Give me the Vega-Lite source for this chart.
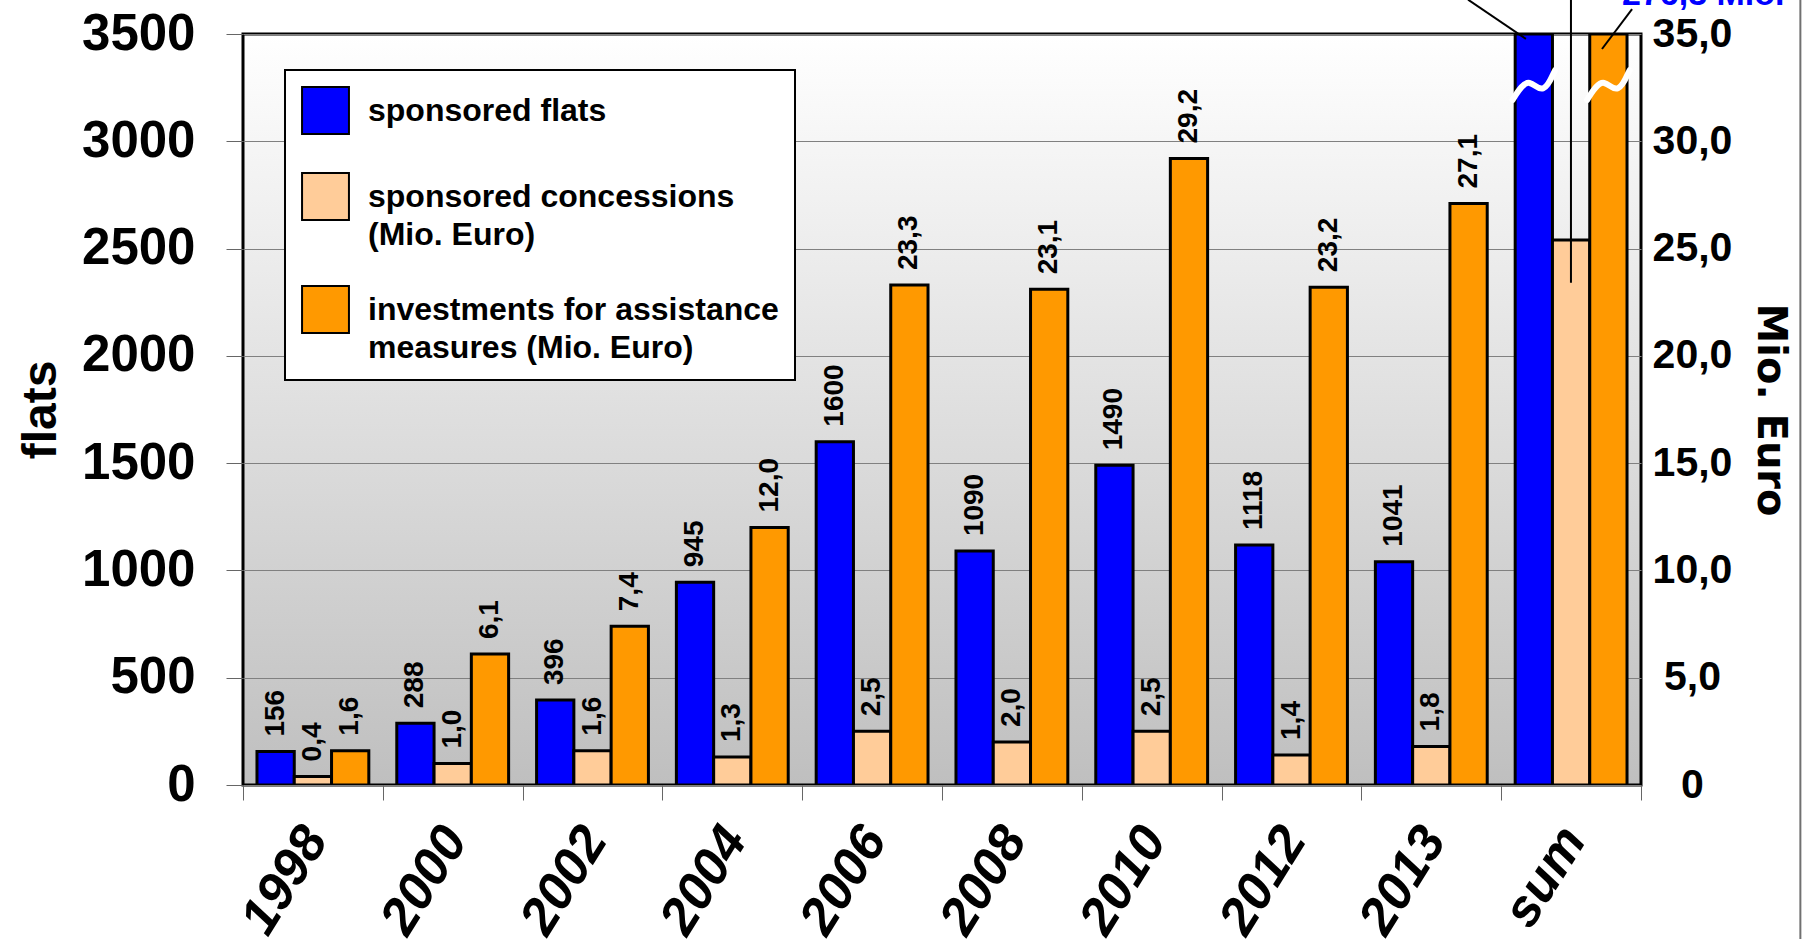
{
  "$schema": "https://vega.github.io/schema/vega-lite/v6.json",
  "width": 1398,
  "height": 751,
  "autosize": {"type": "none"},
  "padding": {"left": 243, "top": 34, "right": 164, "bottom": 154},
  "background": "white",
  "config": {
    "locale": {"number": {"decimal": ",", "thousands": ".", "grouping": [3], "currency": ["", " €"]}},
    "font": "Liberation Sans",
    "legend": {"strokeWidth": 2},
    "view": {
      "fill": {"gradient": "linear", "x1": 0, "y1": 0, "x2": 0, "y2": 1, "stops": [{"offset": 0, "color": "#ffffff"}, {"offset": 1, "color": "#bfbfbf"}]},
      "stroke": "black",
      "strokeWidth": 3
    }
  },
  "datasets": {
    "bars": [
      {"year": "1998", "series": "flats", "value": 156},
      {"year": "2000", "series": "flats", "value": 288},
      {"year": "2002", "series": "flats", "value": 396},
      {"year": "2004", "series": "flats", "value": 945},
      {"year": "2006", "series": "flats", "value": 1600},
      {"year": "2008", "series": "flats", "value": 1090},
      {"year": "2010", "series": "flats", "value": 1490},
      {"year": "2012", "series": "flats", "value": 1118},
      {"year": "2013", "series": "flats", "value": 1041},
      {"year": "sum", "series": "flats", "value": 3500},
      {"year": "1998", "series": "concessions", "value": 0.4},
      {"year": "2000", "series": "concessions", "value": 1.0},
      {"year": "2002", "series": "concessions", "value": 1.6},
      {"year": "2004", "series": "concessions", "value": 1.3},
      {"year": "2006", "series": "concessions", "value": 2.5},
      {"year": "2008", "series": "concessions", "value": 2.0},
      {"year": "2010", "series": "concessions", "value": 2.5},
      {"year": "2012", "series": "concessions", "value": 1.4},
      {"year": "2013", "series": "concessions", "value": 1.8},
      {"year": "sum", "series": "concessions", "value": 25.4},
      {"year": "1998", "series": "investments", "value": 1.6},
      {"year": "2000", "series": "investments", "value": 6.1},
      {"year": "2002", "series": "investments", "value": 7.4},
      {"year": "2004", "series": "investments", "value": 12.0},
      {"year": "2006", "series": "investments", "value": 23.3},
      {"year": "2008", "series": "investments", "value": 23.1},
      {"year": "2010", "series": "investments", "value": 29.2},
      {"year": "2012", "series": "investments", "value": 23.2},
      {"year": "2013", "series": "investments", "value": 27.1},
      {"year": "sum", "series": "investments", "value": 276.3}
    ],
    "lines": [
      {"x1": 9.177, "y1": 3477, "x2": 8.763, "y2": 3660},
      {"x1": 9.499, "y1": 2341, "x2": 9.499, "y2": 3660},
      {"x1": 9.721, "y1": 3430, "x2": 9.936, "y2": 3616}
    ],
    "frame": [
      {"x1": 11.14, "y1": -720, "x2": 11.14, "y2": 3660}
    ],
    "breaks": [
      {"year": "sum", "series": "flats", "y": 3262},
      {"year": "sum", "series": "investments", "y": 3262}
    ],
    "notes": [
      {"x": 9.864, "y": 3635, "text": "276,3 Mio."}
    ]
  },
  "resolve": {"scale": {"x": "independent", "y": "independent", "xOffset": "independent"}},
  "layer": [
    {
      "data": {"name": "bars"},
      "transform": [{"filter": "datum.series == 'flats'"}],
      "mark": {"type": "bar", "stroke": "black", "strokeWidth": 3, "clip": true},
      "encoding": {
        "x": {
          "field": "year", "type": "nominal", "sort": null,
          "scale": {"type": "band", "domain": ["1998", "2000", "2002", "2004", "2006", "2008", "2010", "2012", "2013", "sum"], "paddingInner": 0, "paddingOuter": 0},
          "axis": {
            "title": null, "labelAngle": -58, "labelAlign": "right", "labelBaseline": "middle",
            "labelFont": "Liberation Sans", "labelFontWeight": "bold", "labelFontStyle": "italic", "labelFontSize": 52,
            "labelColor": "black", "labelPadding": 31, "labelOffset": 2, "labelOverlap": false,
            "tickBand": "extent", "ticks": true, "tickSize": 15, "tickColor": "#666666", "tickWidth": 1,
            "domain": false, "grid": false
          }
        },
        "xOffset": {"field": "series", "type": "nominal", "scale": {"type": "band", "domain": ["flats", "concessions", "investments"], "paddingInner": 0, "paddingOuter": 0.375}},
        "y": {
          "field": "value", "type": "quantitative",
          "scale": {"domain": [0, 3500], "nice": false, "zero": true, "clamp": true},
          "axis": {
            "orient": "left", "title": "flats", "titleFont": "Liberation Sans", "titleFontSize": 48, "titleFontWeight": "bold", "titleColor": "black", "titlePadding": 16,
            "values": [0, 500, 1000, 1500, 2000, 2500, 3000, 3500], "format": "d",
            "labelFont": "Liberation Sans", "labelFontSize": 51, "labelFontWeight": "bold", "labelColor": "black", "labelPadding": 31,
            "ticks": true, "tickSize": 17, "tickColor": "#666666", "tickWidth": 1,
            "grid": true, "gridColor": "#808080", "gridWidth": 1, "domain": false
          }
        },
        "color": {
          "field": "series", "type": "nominal",
          "scale": {"domain": ["flats", "concessions", "investments"], "range": ["#0000ff", "#ffcc99", "#ff9900"]},
          "legend": {
            "orient": "none", "legendX": 42, "legendY": 36, "title": null,
            "symbolType": "square", "symbolSize": 2200, "symbolStrokeColor": "black", "symbolStrokeWidth": 2,
            "labelFont": "Liberation Sans", "labelFontWeight": "bold", "labelFontSize": 32, "labelColor": "black", "labelLimit": 800,
            "labelOffset": 18, "padding": 16, "rowPadding": 31,
            "fillColor": "white", "strokeColor": "black",
            "encode": {"labels": {"update": {"lineHeight": {"value": 38}}}},
            "labelExpr": "datum.value == 'flats' ? 'sponsored flats' : datum.value == 'concessions' ? ['sponsored concessions', '(Mio. Euro)'] : ['investments for assistance', 'measures (Mio. Euro)']"
          }
        }
      }
    },
    {
      "data": {"name": "bars"},
      "transform": [{"filter": "datum.series != 'flats'"}],
      "mark": {"type": "bar", "stroke": "black", "strokeWidth": 3, "clip": true},
      "encoding": {
        "x": {"field": "year", "type": "nominal", "sort": null, "scale": {"type": "band", "domain": ["1998", "2000", "2002", "2004", "2006", "2008", "2010", "2012", "2013", "sum"], "paddingInner": 0, "paddingOuter": 0}, "axis": null},
        "xOffset": {"field": "series", "type": "nominal", "scale": {"type": "band", "domain": ["flats", "concessions", "investments"], "paddingInner": 0, "paddingOuter": 0.375}},
        "y": {
          "field": "value", "type": "quantitative",
          "scale": {"domain": [0, 35], "nice": false, "zero": true, "clamp": true},
          "axis": {
            "orient": "right", "title": "Mio. Euro", "titleFont": "DejaVu Sans", "titleFontSize": 40, "titleFontWeight": "bold", "titleColor": "black", "titlePadding": 18, "titleAngle": 90,
            "values": [0, 5, 10, 15, 20, 25, 30, 35], "format": ".1f", "labelExpr": "datum.value == 0 ? '0' : datum.label",
            "labelFont": "Liberation Sans", "labelFontSize": 41, "labelFontWeight": "bold", "labelColor": "black", "labelAlign": "center", "labelPadding": 51,
            "ticks": false, "grid": false, "domain": false
          }
        },
        "color": {"field": "series", "type": "nominal"}
      }
    },
    {
      "data": {"name": "bars"},
      "transform": [{"filter": "datum.series == 'flats' && datum.year != 'sum'"}],
      "mark": {"type": "text", "angle": 270, "align": "left", "baseline": "middle", "dx": 15, "font": "Liberation Sans", "fontWeight": "bold", "fontSize": 28, "color": "black"},
      "encoding": {
        "x": {"field": "year", "type": "nominal", "sort": null, "scale": {"type": "band", "domain": ["1998", "2000", "2002", "2004", "2006", "2008", "2010", "2012", "2013", "sum"], "paddingInner": 0, "paddingOuter": 0}, "axis": null},
        "xOffset": {"field": "series", "type": "nominal", "scale": {"type": "band", "domain": ["flats", "concessions", "investments"], "paddingInner": 0, "paddingOuter": 0.375}},
        "y": {"field": "value", "type": "quantitative", "scale": {"domain": [0, 3500], "nice": false, "zero": true}, "axis": null},
        "text": {"field": "value", "type": "quantitative", "format": "d"}
      }
    },
    {
      "data": {"name": "bars"},
      "transform": [{"filter": "datum.series != 'flats' && datum.year != 'sum'"}],
      "mark": {"type": "text", "angle": 270, "align": "left", "baseline": "middle", "dx": 15, "font": "Liberation Sans", "fontWeight": "bold", "fontSize": 28, "color": "black"},
      "encoding": {
        "x": {"field": "year", "type": "nominal", "sort": null, "scale": {"type": "band", "domain": ["1998", "2000", "2002", "2004", "2006", "2008", "2010", "2012", "2013", "sum"], "paddingInner": 0, "paddingOuter": 0}, "axis": null},
        "xOffset": {"field": "series", "type": "nominal", "scale": {"type": "band", "domain": ["flats", "concessions", "investments"], "paddingInner": 0, "paddingOuter": 0.375}},
        "y": {"field": "value", "type": "quantitative", "scale": {"domain": [0, 35], "nice": false, "zero": true}, "axis": null},
        "text": {"field": "value", "type": "quantitative", "format": ".1f"}
      }
    },
    {
      "data": {"name": "breaks"},
      "mark": {"type": "point", "shape": "M-1,0.7 C-0.7,0.2 -0.45,-0.15 -0.2,-0.1 C0.05,-0.05 0.2,0.25 0.45,0.15 C0.7,0.05 0.85,-0.4 1,-0.7", "filled": false, "stroke": "white", "strokeWidth": 6, "size": 1800, "opacity": 1, "strokeCap": "round"},
      "encoding": {
        "x": {"field": "year", "type": "nominal", "sort": null, "scale": {"type": "band", "domain": ["1998", "2000", "2002", "2004", "2006", "2008", "2010", "2012", "2013", "sum"], "paddingInner": 0, "paddingOuter": 0}, "axis": null},
        "xOffset": {"field": "series", "type": "nominal", "scale": {"type": "band", "domain": ["flats", "concessions", "investments"], "paddingInner": 0, "paddingOuter": 0.375}},
        "y": {"field": "y", "type": "quantitative", "scale": {"domain": [0, 3500], "nice": false, "zero": true}, "axis": null}
      }
    },
    {
      "data": {"name": "lines"},
      "mark": {"type": "rule", "color": "black", "strokeWidth": 2, "clip": false},
      "encoding": {
        "x": {"field": "x1", "type": "quantitative", "scale": {"domain": [0, 10], "nice": false, "zero": false}, "axis": null},
        "x2": {"field": "x2"},
        "y": {"field": "y1", "type": "quantitative", "scale": {"domain": [0, 3500], "nice": false, "zero": true}, "axis": null},
        "y2": {"field": "y2"}
      }
    },
    {
      "data": {"name": "frame"},
      "mark": {"type": "rule", "color": "#707070", "strokeWidth": 2, "clip": false},
      "encoding": {
        "x": {"field": "x1", "type": "quantitative", "scale": {"domain": [0, 10], "nice": false, "zero": false}, "axis": null},
        "x2": {"field": "x2"},
        "y": {"field": "y1", "type": "quantitative", "scale": {"domain": [0, 3500], "nice": false, "zero": true}, "axis": null},
        "y2": {"field": "y2"}
      }
    },
    {
      "data": {"name": "notes"},
      "mark": {"type": "text", "align": "left", "baseline": "alphabetic", "font": "Liberation Sans", "fontWeight": "bold", "fontSize": 34, "color": "#0000ff"},
      "encoding": {
        "x": {"field": "x", "type": "quantitative", "scale": {"domain": [0, 10], "nice": false, "zero": false}, "axis": null},
        "y": {"field": "y", "type": "quantitative", "scale": {"domain": [0, 3500], "nice": false, "zero": true}, "axis": null},
        "text": {"field": "text"}
      }
    }
  ]
}
